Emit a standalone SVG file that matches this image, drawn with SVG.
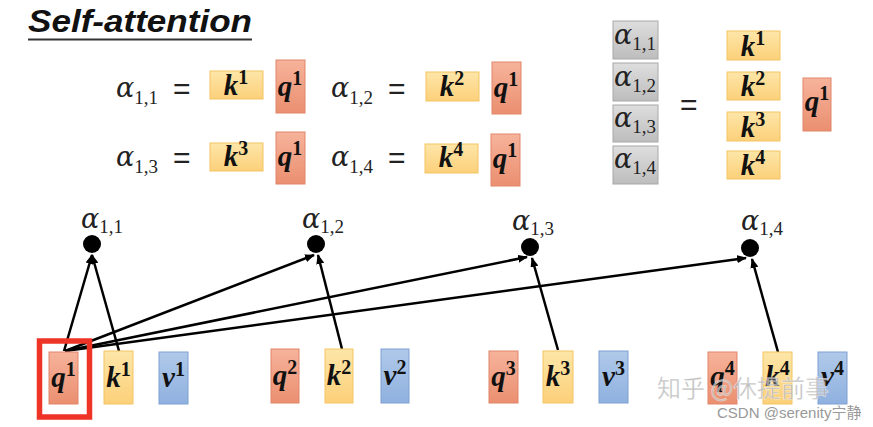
<svg xmlns="http://www.w3.org/2000/svg" width="873" height="427" viewBox="0 0 873 427">
<defs>
<linearGradient id="gq" x1="0" y1="0" x2="0" y2="1"><stop offset="0" stop-color="#f6b39b"/><stop offset="1" stop-color="#eb8f70"/></linearGradient>
<linearGradient id="gk" x1="0" y1="0" x2="0" y2="1"><stop offset="0" stop-color="#fde6a8"/><stop offset="1" stop-color="#fcd07a"/></linearGradient>
<linearGradient id="gv" x1="0" y1="0" x2="0" y2="1"><stop offset="0" stop-color="#b0c9ea"/><stop offset="1" stop-color="#8fb1df"/></linearGradient>
<linearGradient id="gg" x1="0" y1="0" x2="0" y2="1"><stop offset="0" stop-color="#dedede"/><stop offset="1" stop-color="#bdbdbd"/></linearGradient>
<marker id="ah" markerWidth="10" markerHeight="8" refX="9" refY="4" orient="auto" markerUnits="userSpaceOnUse"><path d="M0,0 L10,4 L0,8 Z" fill="#000"/></marker>
</defs>
<style>
.q{fill:url(#gq);stroke:#e0856a;stroke-width:1}
.k{fill:url(#gk);stroke:#f3c462;stroke-width:1}
.v{fill:url(#gv);stroke:#7f9fd2;stroke-width:1}
.g{fill:url(#gg);stroke:#a8a8a8;stroke-width:1}
.m{font-family:"Liberation Serif",serif;font-weight:bold;font-style:italic;font-size:29px;fill:#111;text-anchor:middle}
.a{font-family:"DejaVu Serif",serif;font-style:italic;font-size:27px;fill:#222}
.s{font-family:"Liberation Serif",serif;font-style:normal;font-size:19px}
.sup{font-size:20px;font-style:normal}
.eq{font-family:"Liberation Sans",sans-serif;font-size:30px;fill:#222}
.c{fill:none;stroke:#000;stroke-width:2.5;marker-end:url(#ah)}
</style>
<rect width="873" height="427" fill="#fff"/>

<g id="title">
<text x="28" y="32" font-family="Liberation Sans, sans-serif" font-weight="bold" font-style="italic" font-size="32" fill="#111" textLength="224" lengthAdjust="spacingAndGlyphs">Self-attention</text>
<line x1="28" y1="39.5" x2="252" y2="39.5" stroke="#333" stroke-width="2"/>
</g>

<g id="eq1">
<text class="a" x="116" y="97">α<tspan class="s" dy="7">1,1</tspan></text>
<text class="eq" x="173" y="99">=</text>
<rect class="k" x="210" y="71" width="53" height="28"/>
<text class="m" x="236" y="95">k<tspan class="sup" dy="-11">1</tspan></text>
<rect class="q" x="276" y="60" width="29" height="53"/>
<text class="m" x="290" y="96">q<tspan class="sup" dy="-11">1</tspan></text>
</g>
<g id="eq2">
<text class="a" x="331" y="97">α<tspan class="s" dy="7">1,2</tspan></text>
<text class="eq" x="388" y="99">=</text>
<rect class="k" x="426" y="72" width="53" height="29"/>
<text class="m" x="452" y="96">k<tspan class="sup" dy="-11">2</tspan></text>
<rect class="q" x="492" y="62" width="29" height="52"/>
<text class="m" x="506" y="97">q<tspan class="sup" dy="-11">1</tspan></text>
</g>
<g id="eq3">
<text class="a" x="116" y="166">α<tspan class="s" dy="7">1,3</tspan></text>
<text class="eq" x="173" y="168">=</text>
<rect class="k" x="210" y="143" width="53" height="28"/>
<text class="m" x="236" y="166">k<tspan class="sup" dy="-11">3</tspan></text>
<rect class="q" x="276" y="132" width="29" height="52"/>
<text class="m" x="290" y="166">q<tspan class="sup" dy="-11">1</tspan></text>
</g>
<g id="eq4">
<text class="a" x="331" y="166">α<tspan class="s" dy="7">1,4</tspan></text>
<text class="eq" x="388" y="168">=</text>
<rect class="k" x="425" y="144" width="53" height="29"/>
<text class="m" x="451" y="167">k<tspan class="sup" dy="-11">4</tspan></text>
<rect class="q" x="491" y="134" width="29" height="52"/>
<text class="m" x="505" y="168">q<tspan class="sup" dy="-11">1</tspan></text>
</g>

<g id="matrix">
<rect class="g" x="613" y="21" width="45" height="38"/>
<text class="a" x="614" y="44" font-size="25">α<tspan class="s" dy="6" font-size="18">1,1</tspan></text>
<rect class="g" x="613" y="63" width="45" height="38"/>
<text class="a" x="614" y="86" font-size="25">α<tspan class="s" dy="6" font-size="18">1,2</tspan></text>
<rect class="g" x="613" y="105" width="45" height="37"/>
<text class="a" x="614" y="127" font-size="25">α<tspan class="s" dy="6" font-size="18">1,3</tspan></text>
<rect class="g" x="613" y="146" width="45" height="38"/>
<text class="a" x="614" y="168" font-size="25">α<tspan class="s" dy="6" font-size="18">1,4</tspan></text>
<text class="eq" x="680" y="115">=</text>
<rect class="k" x="727" y="31" width="53" height="29"/>
<text class="m" x="753" y="56">k<tspan class="sup" dy="-11">1</tspan></text>
<rect class="k" x="727" y="72" width="53" height="28"/>
<text class="m" x="753" y="96">k<tspan class="sup" dy="-11">2</tspan></text>
<rect class="k" x="727" y="112" width="53" height="29"/>
<text class="m" x="753" y="137">k<tspan class="sup" dy="-11">3</tspan></text>
<rect class="k" x="727" y="151" width="53" height="28"/>
<text class="m" x="753" y="175">k<tspan class="sup" dy="-11">4</tspan></text>
<rect class="q" x="803" y="78" width="28" height="53"/>
<text class="m" x="817" y="111">q<tspan class="sup" dy="-11">1</tspan></text>
</g>

<g id="connectors">
<line class="c" x1="64" y1="351" x2="92" y2="255"/>
<line class="c" x1="119" y1="351" x2="92" y2="255"/>
<line class="c" x1="65" y1="351" x2="314" y2="255"/>
<line class="c" x1="342" y1="349" x2="318" y2="255"/>
<line class="c" x1="65" y1="351" x2="527" y2="257"/>
<line class="c" x1="558" y1="350" x2="532" y2="258"/>
<line class="c" x1="65" y1="351" x2="746" y2="258"/>
<line class="c" x1="778" y1="352" x2="752" y2="259"/>
</g>

<g id="a11"><circle cx="92" cy="244" r="9" fill="#000"/><text class="a" x="81" y="228" font-size="25">α<tspan class="s" dy="5" font-size="18">1,1</tspan></text></g>
<g id="a12"><circle cx="316" cy="244" r="9" fill="#000"/><text class="a" x="302" y="228" font-size="25">α<tspan class="s" dy="5" font-size="18">1,2</tspan></text></g>
<g id="a13"><circle cx="530" cy="247" r="9" fill="#000"/><text class="a" x="512" y="230" font-size="25">α<tspan class="s" dy="5" font-size="18">1,3</tspan></text></g>
<g id="a14"><circle cx="750" cy="248" r="9" fill="#000"/><text class="a" x="741" y="230" font-size="25">α<tspan class="s" dy="5" font-size="18">1,4</tspan></text></g>

<g id="highlight"><rect x="39.5" y="341" width="50" height="76" fill="none" stroke="#ee3327" stroke-width="5.5"/></g>

<g id="x1">
<rect class="q" x="49" y="352" width="29" height="52"/><text class="m" x="63.5" y="387">q<tspan class="sup" dy="-11">1</tspan></text>
<rect class="k" x="104" y="351" width="29" height="53"/><text class="m" x="118.5" y="387">k<tspan class="sup" dy="-11">1</tspan></text>
<rect class="v" x="159" y="352" width="29" height="52"/><text class="m" x="173.5" y="387">v<tspan class="sup" dy="-11">1</tspan></text>
</g>
<g id="x2">
<rect class="q" x="271" y="349" width="28" height="54"/><text class="m" x="285" y="385">q<tspan class="sup" dy="-11">2</tspan></text>
<rect class="k" x="325" y="349" width="28" height="54"/><text class="m" x="339" y="385">k<tspan class="sup" dy="-11">2</tspan></text>
<rect class="v" x="381" y="349" width="28" height="54"/><text class="m" x="395" y="385">v<tspan class="sup" dy="-11">2</tspan></text>
</g>
<g id="x3">
<rect class="q" x="489" y="351" width="29" height="52"/><text class="m" x="503.5" y="386">q<tspan class="sup" dy="-11">3</tspan></text>
<rect class="k" x="543" y="351" width="30" height="52"/><text class="m" x="558" y="386">k<tspan class="sup" dy="-11">3</tspan></text>
<rect class="v" x="599" y="351" width="29" height="52"/><text class="m" x="613.5" y="386">v<tspan class="sup" dy="-11">3</tspan></text>
</g>
<g id="x4">
<rect class="q" x="708" y="352" width="29" height="52"/><text class="m" x="722.5" y="386">q<tspan class="sup" dy="-11">4</tspan></text>
<rect class="k" x="763" y="352" width="29" height="52"/><text class="m" x="777.5" y="386">k<tspan class="sup" dy="-11">4</tspan></text>
<rect class="v" x="818" y="352" width="29" height="52"/><text class="m" x="832.5" y="386">v<tspan class="sup" dy="-11">4</tspan></text>
</g>

<g id="watermark">
<text x="657" y="397" font-family="Noto Sans CJK SC, sans-serif" font-size="24" fill="#aaa" fill-opacity="0.75" stroke="#fff" stroke-opacity="0.5" stroke-width="0.8">知乎 @休提前事</text>
<text x="717" y="418" font-family="Liberation Sans, Noto Sans CJK SC, sans-serif" font-size="15" fill="#999">CSDN @serenity宁静</text>
</g>
</svg>
